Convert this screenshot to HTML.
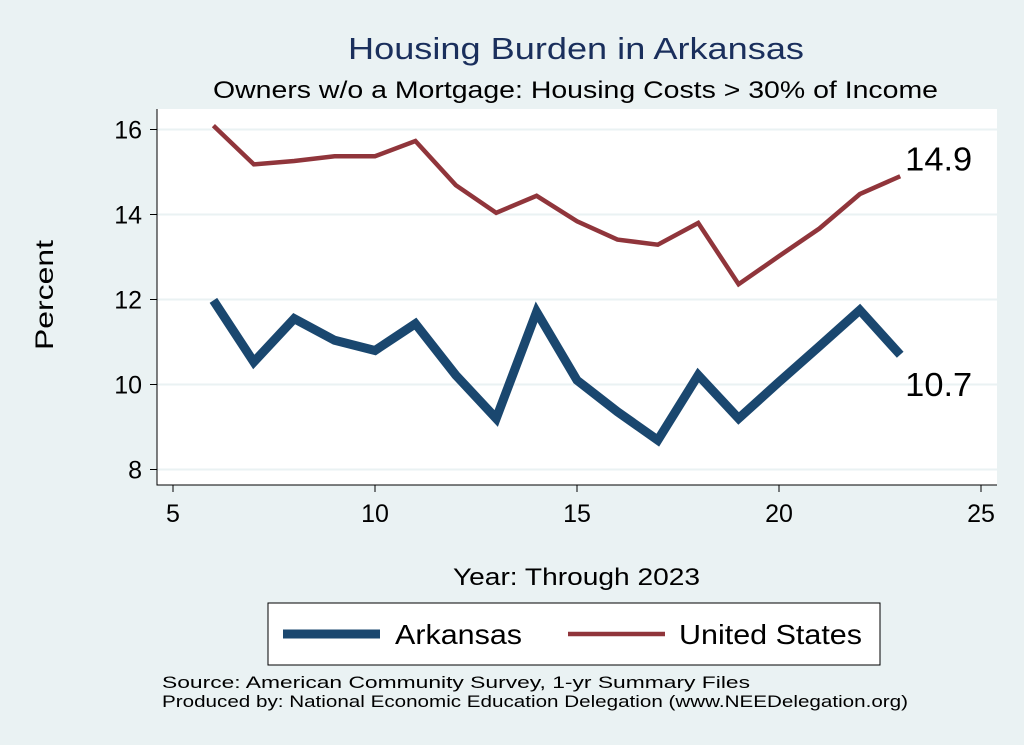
<!DOCTYPE html>
<html><head><meta charset="utf-8"><style>
body{margin:0;background:#eaf2f3;}
svg{display:block;font-family:"Liberation Sans",Arial,sans-serif;}
</style></head><body>
<svg id="chart" width="1024" height="745">
<rect x="0" y="0" width="1024" height="745" fill="#eaf2f3"/>
<text x="348" y="59" font-size="31" fill="#1a2f5c" textLength="456" lengthAdjust="spacingAndGlyphs">Housing Burden in Arkansas</text>
<text x="213" y="98" font-size="24" fill="#000" textLength="725" lengthAdjust="spacingAndGlyphs">Owners w/o a Mortgage: Housing Costs &gt; 30% of Income</text>
<rect x="157" y="109" width="840" height="376" fill="#fff"/>
<g id="grid"></g><g id="axes"></g><g id="series"></g>
<text x="453" y="585" font-size="24" textLength="247" lengthAdjust="spacingAndGlyphs">Year: Through 2023</text>
<text transform="translate(53,350) rotate(-90)" font-size="25" textLength="110" lengthAdjust="spacingAndGlyphs">Percent</text>
<g>
<rect x="268" y="603" width="612" height="62" fill="#fff" stroke="#000" stroke-width="1"/>
<g><line x1="283" y1="634" x2="380" y2="634" stroke="#1a476f" stroke-width="9"/><text x="395" y="644" font-size="28" textLength="127" lengthAdjust="spacingAndGlyphs">Arkansas</text></g>
<g><line x1="568" y1="634" x2="665" y2="634" stroke="#90353b" stroke-width="4.5"/><text x="679" y="644" font-size="28" textLength="183" lengthAdjust="spacingAndGlyphs">United States</text></g>
</g>
<text x="162" y="688" font-size="17" textLength="588" lengthAdjust="spacingAndGlyphs">Source: American Community Survey, 1-yr Summary Files</text>
<text x="162" y="707" font-size="17" textLength="746" lengthAdjust="spacingAndGlyphs">Produced by: National Economic Education Delegation (www.NEEDelegation.org)</text>
</svg>
<script>
const years=[6,7,8,9,10,11,12,13,14,15,16,17,18,19,20,21,22,23];
const arkansas=[11.98,10.53,11.55,11.04,10.8,11.43,10.22,9.2,11.71,10.1,9.36,8.69,10.22,9.2,10.06,10.9,11.75,10.7];
const unitedStates=[16.09,15.18,15.26,15.37,15.37,15.73,14.69,14.04,14.44,13.84,13.41,13.29,13.8,12.36,13.02,13.67,14.48,14.9];
const xTicks=[5,10,15,20,25];
const yTicks=[8,10,12,14,16];
const NS='http://www.w3.org/2000/svg';
const X=v=>173+(v-5)*40.4;
const Y=v=>129.5+(16-v)*42.5;
function mk(t,a,p){const e=document.createElementNS(NS,t);for(const k in a)e.setAttribute(k,a[k]);document.getElementById(p).appendChild(e);return e;}
yTicks.forEach(v=>{
 const g=mk('line',{x1:157,x2:997,y1:Y(v),y2:Y(v),stroke:'#eaf2f3','stroke-width':2},'grid');
 
 
 const t=mk('line',{x1:150,x2:157,y1:Y(v),y2:Y(v),stroke:'#000'},'axes');
 
 
 const l=mk('text',{x:142,y:Y(v)+9,'font-size':25,'text-anchor':'end'},'axes');l.textContent=v;
 
 
});
xTicks.forEach(v=>{
 const t=mk('line',{x1:X(v),x2:X(v),y1:485,y2:492,stroke:'#000'},'axes');
 
 
 const l=mk('text',{x:X(v),y:522,'font-size':25,'text-anchor':'middle'},'axes');l.textContent=v;
 
 
});
const ax=mk('path',{d:'M157 109 V485 H997',fill:'none',stroke:'#000','stroke-width':1},'axes');


function line(vals,col,w,name){
 const p=mk('polyline',{points:years.map((y,i)=>X(y)+','+Y(vals[i])).join(' '),fill:'none',stroke:col,'stroke-width':w,'stroke-linejoin':'miter'},'series');
 
 
}
line(unitedStates,'#90353b',4.5,'united-states-line');
line(arkansas,'#1a476f',9,'arkansas-line');
const n=years.length-1;
const lu=mk('text',{x:X(years[n])+5,y:Y(unitedStates[n])-6,'font-size':33,textLength:67,lengthAdjust:'spacingAndGlyphs'},'series');lu.textContent=unitedStates[n].toFixed(1);


const la=mk('text',{x:X(years[n])+5,y:Y(arkansas[n])+41,'font-size':33,textLength:67,lengthAdjust:'spacingAndGlyphs'},'series');la.textContent=arkansas[n].toFixed(1);


</script>
</body></html>
